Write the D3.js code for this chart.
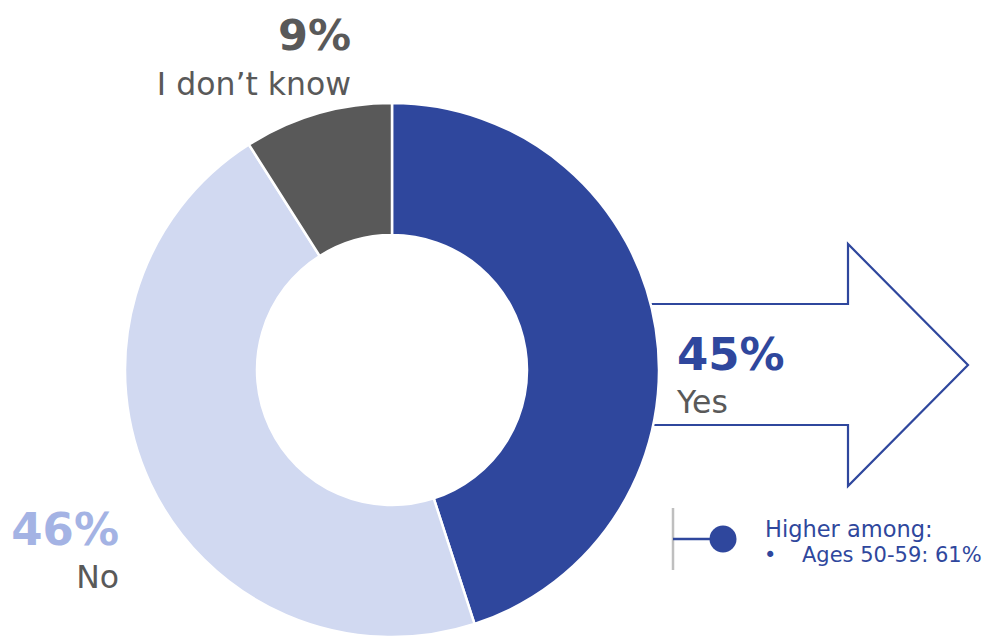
<!DOCTYPE html>
<html>
<head>
<meta charset="utf-8">
<script src="https://cdn.jsdelivr.net/npm/d3@7"></script>
<style>
  html, body { margin: 0; padding: 0; background: #fff; }
  svg { display: block; font-family: "DejaVu Sans", sans-serif; }
</style>
</head>
<body>
<svg width="988" height="638"></svg>
<script>
// answers and shares (percent)
const categories = ["Yes", "No", "I don\u2019t know"];
const values = [45, 46, 9];
const sliceColors = ["#2f479d", "#d1d9f1", "#595959"];
const pctColors = ["#2f479d", "#a4b3e4", "#595959"];

// callout
const calloutTitle = "Higher among:";
const calloutItems = ["Ages 50-59: 61%"];

const width = 988, height = 638;
const cx = 392, cy = 370;
const outerR = 267, innerR = 135;

const svg = d3.select("svg");

// big outlined arrow, its tail hidden under the ring
const arrow = svg.append("g");
{
    const x0 = cx + (innerR + outerR) / 2, x1 = 848, tip = 968;
    const shaftTop = 304, shaftBot = 425, headTop = 244, headBot = 486;
    const midY = (headTop + headBot) / 2;
    const p = d3.path();
    p.moveTo(x0, shaftTop);
    p.lineTo(x1, shaftTop);
    p.lineTo(x1, headTop);
    p.lineTo(tip, midY);
    p.lineTo(x1, headBot);
    p.lineTo(x1, shaftBot);
    p.lineTo(x0, shaftBot);
    p.closePath();
    arrow.append("path")
        .attr("d", p.toString())
        .attr("fill", "#fff")
        .attr("stroke", "#2f479d")
        .attr("stroke-width", 2.2)
        .attr("stroke-linejoin", "miter");
}

const pie = d3.pie().sort(null).value(d => d);
const arc = d3.arc().innerRadius(innerR).outerRadius(outerR);

svg.append("g")
    .attr("transform", `translate(${cx},${cy})`)
    .selectAll("path")
    .data(pie(values))
    .join("path")
        .attr("d", arc)
        .attr("fill", (d, i) => sliceColors[i])
        .attr("stroke", "#fff")
        .attr("stroke-width", 2.5);

// labels: percent above, answer below
const labels = [
    {x: 677, y: 370, anchor: "start", size: 45, ly: 413},
    {x: 119, y: 545, anchor: "end", size: 45, ly: 588},
    {x: 351, y: 50, anchor: "end", size: 43, ly: 95}
];

const lab = svg.append("g")
    .selectAll("g")
    .data(categories)
    .join("g");

lab.append("text")
    .attr("x", (d, i) => labels[i].x)
    .attr("y", (d, i) => labels[i].y)
    .attr("text-anchor", (d, i) => labels[i].anchor)
    .attr("font-size", (d, i) => labels[i].size)
    .attr("font-weight", "bold")
    .attr("fill", (d, i) => pctColors[i])
    .text((d, i) => values[i] + "%");

lab.append("text")
    .attr("x", (d, i) => labels[i].x)
    .attr("y", (d, i) => labels[i].ly)
    .attr("text-anchor", (d, i) => labels[i].anchor)
    .attr("font-size", 31.5)
    .attr("fill", "#595959")
    .text(d => d);

// "higher among" callout
const call = svg.append("g");
call.append("line")
    .attr("x1", 673).attr("x2", 673)
    .attr("y1", 508).attr("y2", 570)
    .attr("stroke", "#bfbfbf").attr("stroke-width", 2.5);
call.append("line")
    .attr("x1", 673).attr("x2", 723)
    .attr("y1", 539).attr("y2", 539)
    .attr("stroke", "#2f479d").attr("stroke-width", 2.5);
call.append("circle")
    .attr("cx", 723).attr("cy", 539).attr("r", 13.5)
    .attr("fill", "#2f479d");
call.append("text")
    .attr("x", 765).attr("y", 537)
    .attr("font-size", 22.5)
    .attr("fill", "#2f479d")
    .text(calloutTitle);
call.selectAll("g.item")
    .data(calloutItems)
    .join("g")
    .attr("class", "item")
    .call(g => g.append("text")
        .attr("x", 764).attr("y", (d, i) => 562 + i * 25)
        .attr("font-size", 21).attr("fill", "#2f479d")
        .text("•"))
    .call(g => g.append("text")
        .attr("x", 802).attr("y", (d, i) => 562 + i * 25)
        .attr("font-size", 21).attr("fill", "#2f479d")
        .text(d => d));
</script>
</body>
</html>
